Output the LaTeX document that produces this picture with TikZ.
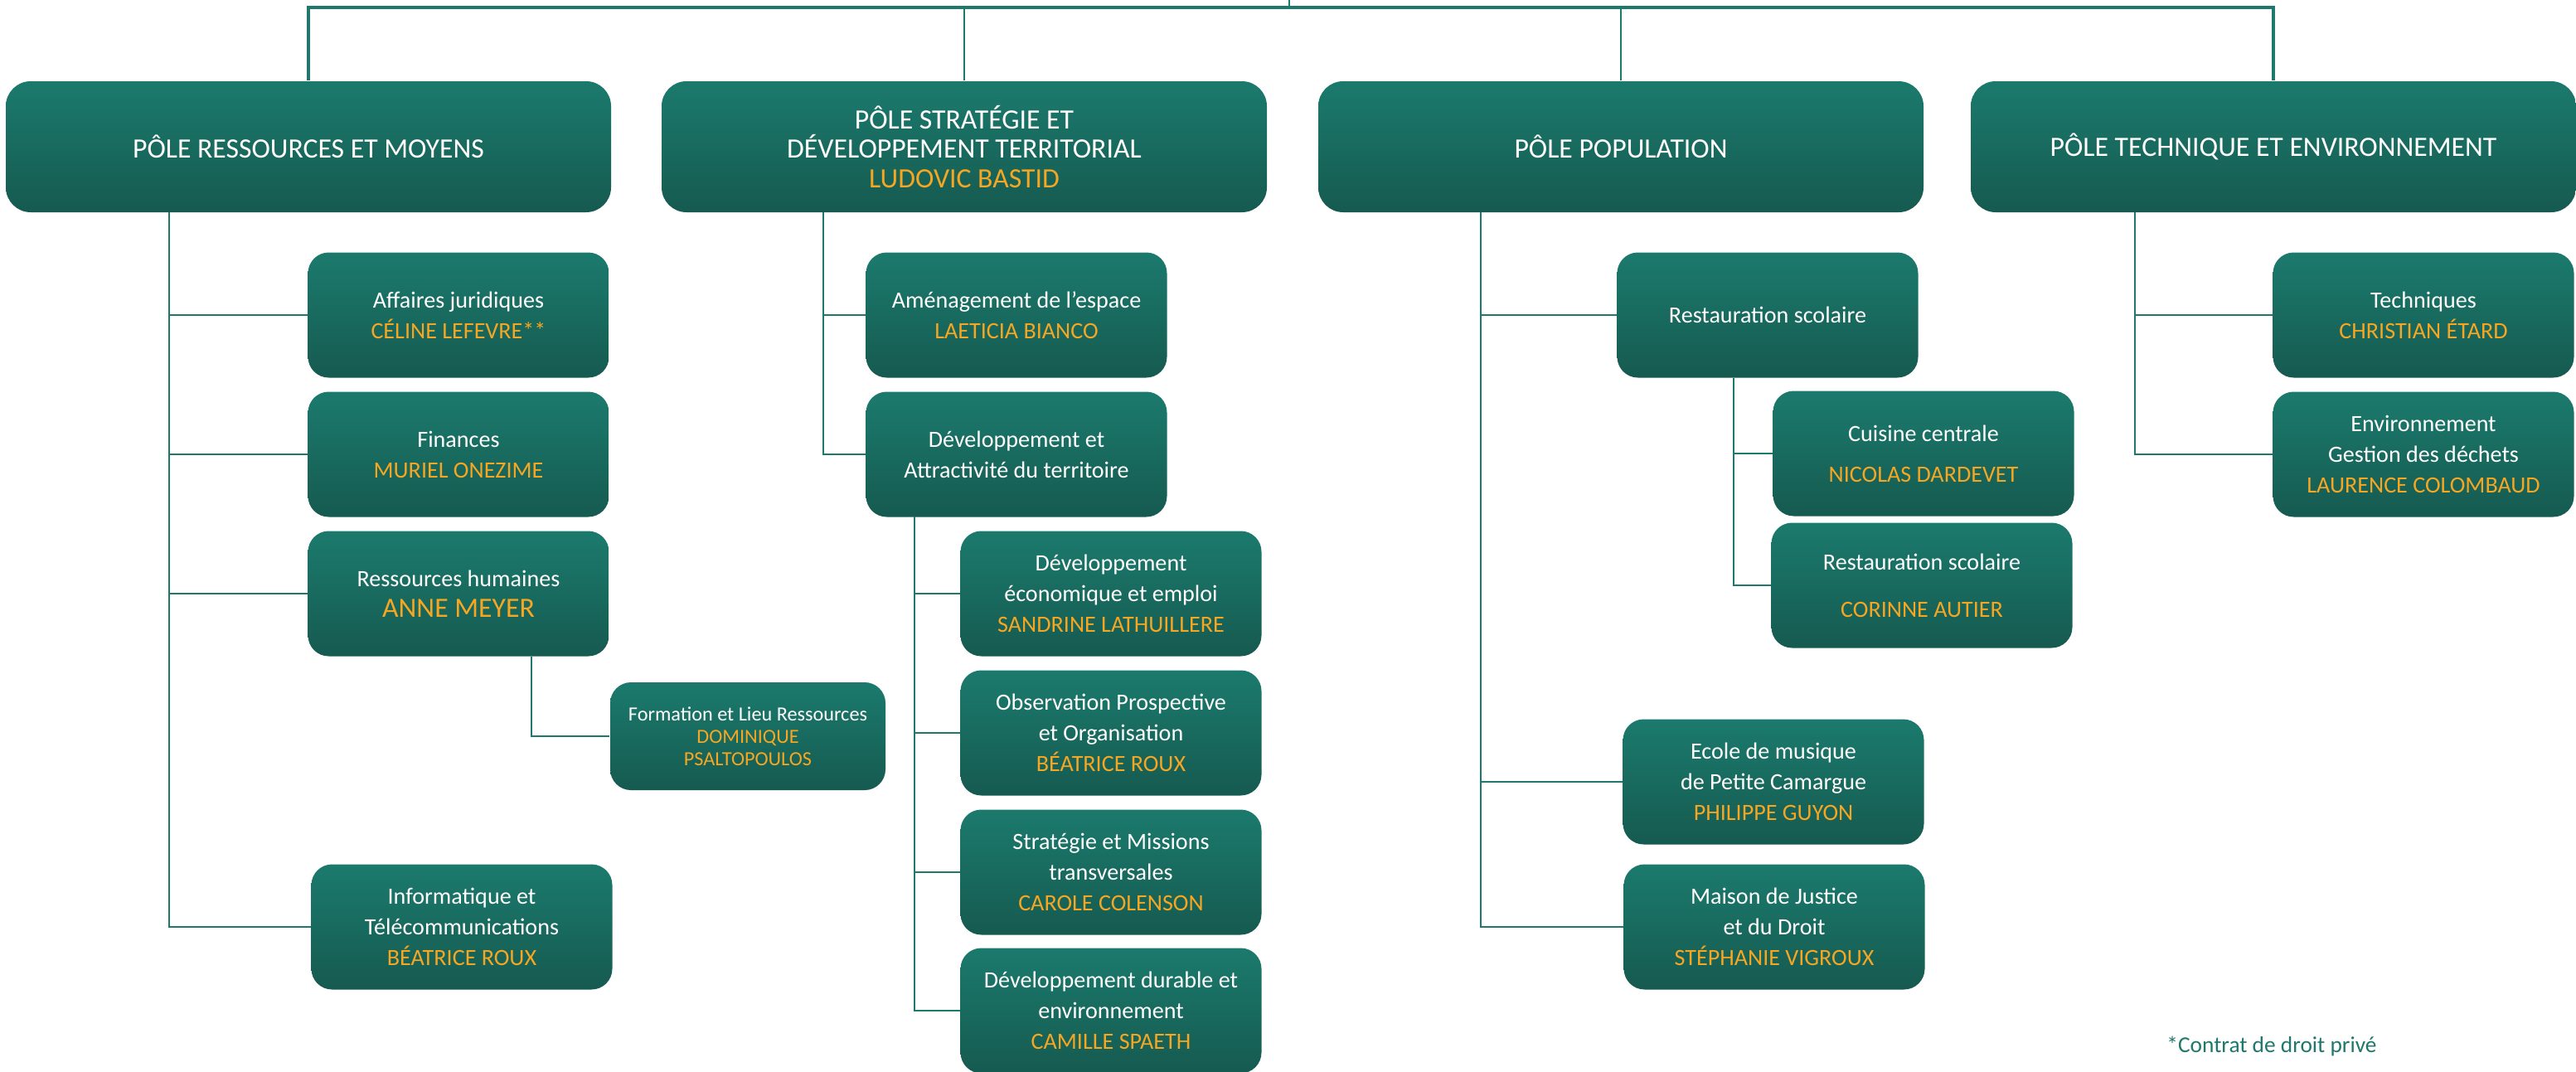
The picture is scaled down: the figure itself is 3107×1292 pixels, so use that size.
\documentclass[tikz,border=0pt]{standalone}
\usepackage{fontspec}
\setmainfont{Carlito}
\definecolor{boxtop}{RGB}{27,122,109}
\definecolor{boxbot}{RGB}{22,90,80}
\definecolor{trait}{RGB}{30,120,108}
\definecolor{nomcol}{RGB}{245,166,35}
\newcommand{\nom}[1]{\textcolor{nomcol}{#1}}
\newcommand{\grandnom}[1]{\textcolor{nomcol}{\fontsize{9.6}{11}\selectfont #1}}
\begin{document}
\begin{tikzpicture}[x=0.1mm,y=-0.1mm,
		boite/.style={rounded corners=2.5mm,top color=boxtop,bottom color=boxbot,text=white,align=center,inner sep=0pt},
		pole/.style={boite,rounded corners=3mm,minimum width=73mm,minimum height=15.8mm,font=\fontsize{9.6}{10}\selectfont},
		service/.style={boite,minimum width=36.3mm,minimum height=15.1mm,font=\fontsize{8}{10.5}\selectfont},
		lien/.style={draw=trait,line width=0.8pt}]
		\useasboundingbox (0,0) rectangle (3107,1292);

		\coordinate (haut) at (1555,0);
		\coordinate (barre1) at (372,9);
		\coordinate (barre4) at (2742,9);
		\coordinate (t1) at (204,256);
		\coordinate (t1b) at (641,792);
		\coordinate (t2) at (993,256);
		\coordinate (t2b) at (1103,623);
		\coordinate (t3) at (1786,256);
		\coordinate (t3b) at (2091,456);
		\coordinate (t4) at (2575,256);

		\node[pole] (p1) at (372,177) {PÔLE RESSOURCES ET MOYENS};
		\node[pole] (p2) at (1163,177) {PÔLE STRATÉGIE ET\\DÉVELOPPEMENT TERRITORIAL\\\nom{LUDOVIC BASTID}};
		\node[pole] (p3) at (1955,177) {PÔLE POPULATION};
		\node[pole] (p4) at (2742,177) {PÔLE TECHNIQUE ET ENVIRONNEMENT};

		\node[service] (aff) at (553,380) {Affaires juridiques\\\nom{CÉLINE LEFEVRE**}};
		\node[service] (fin) at (553,548) {Finances\\\nom{MURIEL ONEZIME}};
		\node[service] (rh) at (553,716) {Ressources humaines\\\grandnom{ANNE MEYER}};
		\node[service,minimum width=33.2mm,minimum height=13mm,font=\fontsize{6.9}{7.6}\selectfont] (form) at (902,888) {Formation et Lieu Ressources\\\nom{DOMINIQUE}\\\nom{PSALTOPOULOS}};
		\node[service] (info) at (557,1118) {Informatique et\\Télécommunications\\\nom{BÉATRICE ROUX}};

		\node[service] (amen) at (1226,380) {Aménagement de l’espace\\\nom{LAETICIA BIANCO}};
		\node[service] (devat) at (1226,548) {Développement et\\Attractivité du territoire};
		\node[service] (deveco) at (1340,716) {Développement\\économique et emploi\\\nom{SANDRINE LATHUILLERE}};
		\node[service] (obs) at (1340,884) {Observation Prospective\\et Organisation\\\nom{BÉATRICE ROUX}};
		\node[service] (strat) at (1340,1052) {Stratégie et Missions\\transversales\\\nom{CAROLE COLENSON}};
		\node[service] (durable) at (1340,1219) {Développement durable et\\environnement\\\nom{CAMILLE SPAETH}};

		\node[service] (resto) at (2132,380) {Restauration scolaire};
		\node[service] (cuisine) at (2320,547) {Cuisine centrale\\[1.2mm]\nom{NICOLAS DARDEVET}};
		\node[service] (resto2) at (2318,706) {Restauration scolaire\\[2mm]\nom{CORINNE AUTIER}};
		\node[service] (ecole) at (2139,943) {Ecole de musique\\de Petite Camargue\\\nom{PHILIPPE GUYON}};
		\node[service] (justice) at (2140,1118) {Maison de Justice\\et du Droit\\\nom{STÉPHANIE VIGROUX}};

		\node[service] (tech) at (2923,380) {Techniques\\\nom{CHRISTIAN ÉTARD}};
		\node[service] (envir) at (2923,548) {Environnement\\Gestion des déchets\\\nom{LAURENCE COLOMBAUD}};

		\node[text=trait,font=\fontsize{7.8}{9}\selectfont] (note) at (2740,1262) {*Contrat de droit privé};

		\draw[lien,line width=1.2pt] (p1.north) -- (barre1) -- (barre4) -- (p4.north);
		\draw[lien] (p2.north) -- (p2.north |- barre1);
		\draw[lien] (p3.north) -- (p3.north |- barre1);
		\draw[lien] (haut) -- (haut |- barre1);

		\draw[lien] (t1) |- (aff.west);
		\draw[lien] (t1) |- (fin.west);
		\draw[lien] (t1) |- (rh.west);
		\draw[lien] (t1) |- (info.west);
		\draw[lien] (t1b) |- (form.west);

		\draw[lien] (t2) |- (amen.west);
		\draw[lien] (t2) |- (devat.west);
		\draw[lien] (t2b) |- (deveco.west);
		\draw[lien] (t2b) |- (obs.west);
		\draw[lien] (t2b) |- (strat.west);
		\draw[lien] (t2b) |- (durable.west);

		\draw[lien] (t3) |- (resto.west);
		\draw[lien] (t3b) |- (cuisine.west);
		\draw[lien] (t3b) |- (resto2.west);
		\draw[lien] (t3) |- (ecole.west);
		\draw[lien] (t3) |- (justice.west);

		\draw[lien] (t4) |- (tech.west);
		\draw[lien] (t4) |- (envir.west);
	\end{tikzpicture}
\end{document}
